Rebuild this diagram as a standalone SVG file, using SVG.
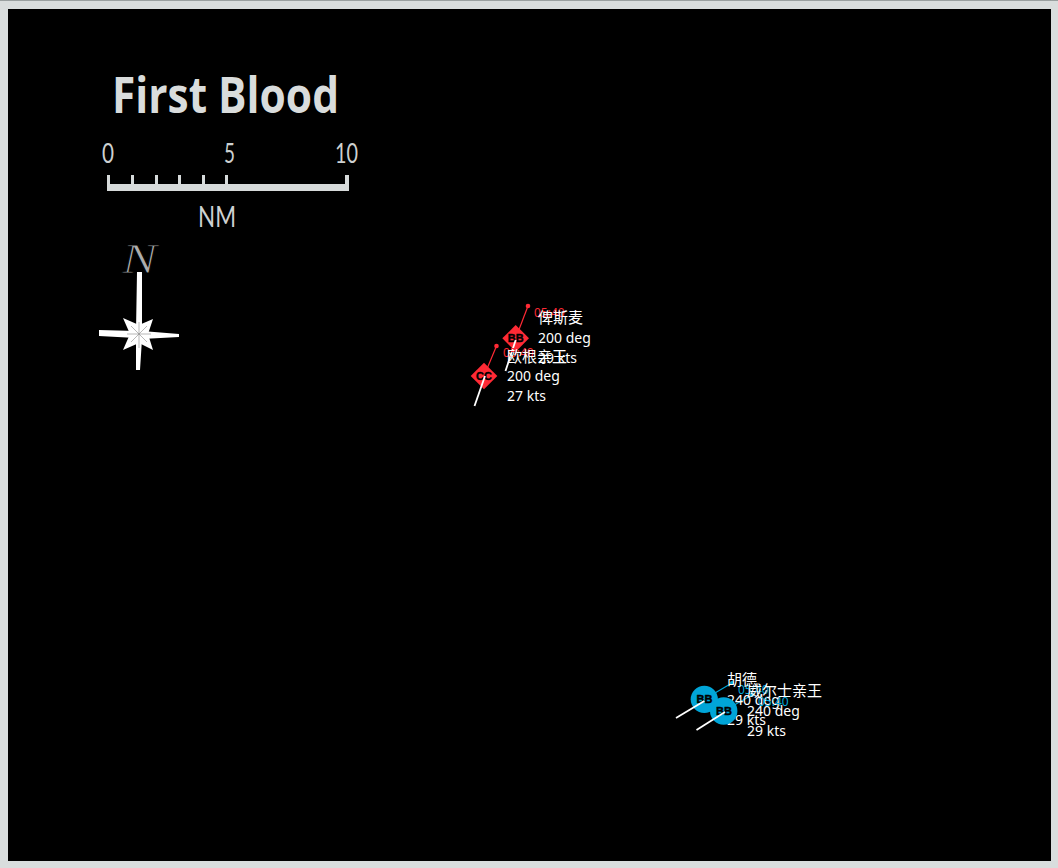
<svg xmlns="http://www.w3.org/2000/svg" width="1058" height="868" viewBox="0 0 1058 868">
<style>
.lbl{font-family:"Noto Sans","Noto Sans CJK SC",sans-serif;font-size:14px;fill:#fff}
.cjk{font-family:"Noto Sans CJK SC",sans-serif;font-size:15px}
.time{font-family:"Noto Sans",sans-serif;font-size:12px}
.red{fill:#ff2a35}
.blue{fill:#00a5d8}
.hdg{stroke:#fff;stroke-width:1.8;fill:none}
.lead-r{stroke:#ff2a35;stroke-width:1.2}
.lead-b{stroke:#00a5d8;stroke-width:1.2}
.scale{fill:#d9dddd}
.code{font-family:"Liberation Sans",sans-serif;font-size:11px;font-weight:bold;fill:#000;text-anchor:middle;stroke:#000;stroke-width:.4}
.ink{fill:#dcdfdf;font-family:"Open Sans",sans-serif}
.thin{fill:#d0d4d4;font-family:"Lato",sans-serif;font-weight:400}
</style>
<rect width="1058" height="868" fill="#d9dddd"/>
<rect width="1058" height="1" fill="#9aa0a0"/>
<rect x="8" y="9" width="1043" height="852" fill="#000"/>
<g id="title" opacity=".99">
<text x="112" y="113" class="ink" font-size="50" font-weight="bold" textLength="227" lengthAdjust="spacingAndGlyphs">First Blood</text>
</g>
<g id="scale-bar" opacity=".99">
<rect class="scale" x="107" y="184" width="242" height="7"/>
<rect class="scale" x="107" y="175" width="3" height="10"/><rect class="scale" x="131" y="175" width="3" height="10"/><rect class="scale" x="155" y="175" width="3" height="10"/><rect class="scale" x="178" y="175" width="3" height="10"/><rect class="scale" x="202" y="175" width="3" height="10"/><rect class="scale" x="225" y="175" width="3" height="10"/><rect class="scale" x="345" y="175" width="4" height="10"/>
<text x="102" y="163" class="thin" font-size="27" textLength="12" lengthAdjust="spacingAndGlyphs">0</text>
<text x="224" y="163" class="thin" font-size="27" textLength="11" lengthAdjust="spacingAndGlyphs">5</text>
<text x="335" y="163" class="thin" font-size="27" textLength="23" lengthAdjust="spacingAndGlyphs">10</text>
<text x="198" y="227" class="thin" font-size="29" textLength="38" lengthAdjust="spacingAndGlyphs">NM</text>
</g>
<g id="compass">
<text x="122" y="273" font-family="Liberation Serif,serif" font-style="italic" font-size="42" fill="#b0b0b0" stroke="#000" stroke-width=".9" opacity=".99" textLength="35" lengthAdjust="spacingAndGlyphs">N</text>
<polygon fill="#fff" points="137,272 142,272 142,331 179,334 179,337 142,339 140,370 136,370 136,338 99,336 99,330 136,331"/>
<polygon fill="#fff" points="123,318 139,325 153,319 148,334 153,350 139,343 123,350 130,334"/>
<path d="M127 334H151M139 322V348M131 326L147 342M147 326L131 342" stroke="#888" stroke-width=".6" fill="none"/>
</g>
<g id="connectors">
<line class="lead-r" x1="515.7" y1="338.3" x2="528" y2="306"/>
<line class="lead-r" x1="484" y1="376" x2="496.5" y2="346"/>
<line class="lead-b" x1="704.3" y1="699.3" x2="732" y2="683"/>
<line class="lead-b" x1="723.7" y1="711" x2="752" y2="695"/>
</g>
<g id="bismarck">
<circle class="red" cx="528" cy="306" r="2.3"/>
<polygon class="red" points="515.7,325 529,338.3 515.7,351.7 502.3,338.3"/>
<text x="515.7" y="342" class="code">BB</text>
<line class="hdg" x1="515.7" y1="340" x2="505.5" y2="371"/>
<text x="534" y="317" class="time red">05:40</text>
<text class="lbl"><tspan class="cjk" x="538" y="323">俾斯麦</tspan><tspan x="538" y="343">200 deg</tspan><tspan x="538" y="363">29 kts</tspan></text>
</g>
<g id="prinz-eugen">
<circle class="red" cx="496.5" cy="346" r="2.3"/>
<polygon class="red" points="484,362.7 497.3,376 484,389.3 470.7,376"/>
<text x="484" y="380" class="code">CC</text>
<line class="hdg" x1="485" y1="376" x2="474.5" y2="406"/>
<text x="503" y="357" class="time red">05:40</text>
<text class="lbl"><tspan class="cjk" x="507" y="362">欧根亲王</tspan><tspan x="507" y="381">200 deg</tspan><tspan x="507" y="401">27 kts</tspan></text>
</g>
<g id="hood">
<circle class="blue" cx="732" cy="683" r="2"/>
<circle class="blue" cx="704.3" cy="699.3" r="13.6"/>
<text x="704.5" y="703" class="code">BB</text>
<line class="hdg" x1="704.3" y1="701" x2="676" y2="718"/>
<text x="738" y="694" class="time blue">05:40</text>
<text class="lbl"><tspan class="cjk" x="727" y="685">胡德</tspan><tspan x="727" y="705">240 deg</tspan><tspan x="727" y="725">29 kts</tspan></text>
</g>
<g id="prince-of-wales">
<circle class="blue" cx="752" cy="695" r="2"/>
<circle class="blue" cx="723.7" cy="711" r="13.7"/>
<text x="724" y="715" class="code">BB</text>
<line class="hdg" x1="725" y1="712" x2="696.5" y2="730"/>
<text x="758" y="706" class="time blue">05:40</text>
<text class="lbl"><tspan class="cjk" x="747" y="696">威尔士亲王</tspan><tspan x="747" y="716">240 deg</tspan><tspan x="747" y="736">29 kts</tspan></text>
</g>
</svg>
